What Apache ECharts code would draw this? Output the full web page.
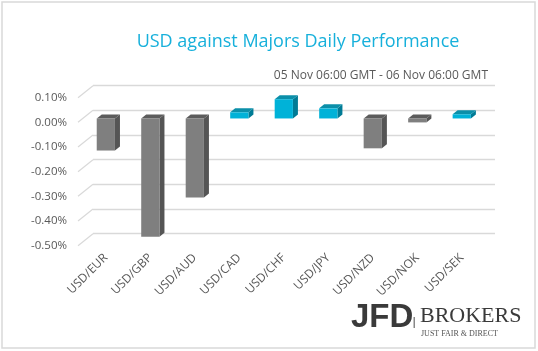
<!DOCTYPE html>
<html><head><meta charset="utf-8">
<script src="https://cdn.jsdelivr.net/npm/echarts@6/dist/echarts.min.js"></script>
<style>html,body{margin:0;padding:0;background:#fff}#c{width:538px;height:351px}</style>
</head><body><div id="c"></div>
<script>
var categories = ['USD/EUR','USD/GBP','USD/AUD','USD/CAD','USD/CHF','USD/JPY','USD/NZD','USD/NOK','USD/SEK'];
var values = [-0.13, -0.48, -0.32, 0.025, 0.078, 0.041, -0.121, -0.016, 0.017];
var tickValues = [0.1, 0, -0.1, -0.2, -0.3, -0.4, -0.5];
var titleText = 'USD against Majors Daily Performance';
var subtitleText = '05 Nov 06:00 GMT - 06 Nov 06:00 GMT';

var chart = echarts.init(document.getElementById('c'), null, {renderer:'canvas'});
var DX = 15, DY = 12;   // perspective offset front->back
var BD_X = 5, BD_Y = 4; // bar depth
var font = '"Open Sans", sans-serif';

function boxRender(params, api) {
  var idx = api.value(0), v = api.value(1);
  var p0 = api.coord([idx, 0]);
  var p1 = api.coord([idx, v]);
  var bw = api.size([1, 0])[0] * 0.41;
  var x0 = p0[0] - bw / 2, x1 = p0[0] + bw / 2;
  var yTop = Math.min(p0[1], p1[1]), yBot = Math.max(p0[1], p1[1]);
  var pos = v >= 0;
  var cFront = pos ? '#00b2d8' : '#7f7f7f';
  var cSide = pos ? '#007b95' : '#555555';
  var cTop = pos ? '#0b8fa9' : '#5c5c5c';
  return {
    type: 'group',
    children: [
      {type:'polygon', shape:{points:[[x1,yTop],[x1+BD_X,yTop-BD_Y],[x1+BD_X,yBot-BD_Y],[x1,yBot]]}, style:{fill:cSide}},
      {type:'polygon', shape:{points:[[x0,yTop],[x0+BD_X,yTop-BD_Y],[x1+BD_X,yTop-BD_Y],[x1,yTop]]}, style:{fill:cTop}},
      {type:'rect', shape:{x:x0, y:yTop, width:bw, height:Math.max(yBot-yTop,0.5)}, style:{fill:cFront}}
    ]
  };
}

function diagRender(params, api) {
  var v = api.value(0);
  var y = api.coord([0, v])[1];
  var x = params.coordSys.x;
  return {type:'line', shape:{x1:x-DX, y1:y+DY, x2:x, y2:y}, style:{stroke:'#d9d9d9', lineWidth:1.3}};
}

chart.setOption({
  animation: false,
  backgroundColor: '#ffffff',
  title: [
    {text: titleText, left: 293, top: 28, textAlign: 'center',
     textStyle:{color:'#17b0db', fontSize:18, fontWeight:'normal', fontFamily:font}},
    {text: subtitleText, right: 45, top: 65,
     textStyle:{color:'#595959', fontSize:12, fontWeight:'normal', fontFamily:font}}
  ],
  grid: [
    {left: 93, right: 43, top: 85.7, height: 148},
    {left: 78, width: 20, top: 97.7, height: 148},
    {left: 83.6, right: 54, top: 93.8, height: 148}
  ],
  xAxis: [
    {gridIndex:0, type:'category', data:categories, show:false},
    {gridIndex:1, type:'category', data:categories, show:false},
    {gridIndex:2, type:'category', data:categories,
     axisLine:{show:false}, axisTick:{show:false},
     axisLabel:{rotate:45, margin:14, color:'#595959', fontSize:12, fontFamily:font, interval:0}}
  ],
  yAxis: [
    {gridIndex:0, type:'value', min:-0.5, max:0.1, interval:0.1,
     axisLabel:{show:false}, axisLine:{show:false}, axisTick:{show:false},
     splitLine:{show:true, lineStyle:{color:'#d9d9d9', width:1.3}}},
    {gridIndex:1, type:'value', min:-0.5, max:0.1, interval:0.1,
     axisLine:{show:false}, axisTick:{show:false}, splitLine:{show:false},
     axisLabel:{margin:11, color:'#595959', fontSize:11.5, fontFamily:font,
       formatter:function(v){return v.toFixed(2) + '%';}}},
    {gridIndex:2, type:'value', min:-0.5, max:0.1, interval:0.1, show:false, splitLine:{show:false}}
  ],
  series: [
    {type:'custom', xAxisIndex:0, yAxisIndex:0, renderItem:diagRender,
     data: tickValues.map(function(v){return [v];}), encode:{y:0}, silent:true},
    {type:'custom', xAxisIndex:2, yAxisIndex:2, renderItem:boxRender,
     data: values.map(function(v,i){return [i, v];}), encode:{x:0, y:1}, clip:false}
  ],
  graphic: [
    {type:'rect', shape:{x:2, y:2, width:533, height:346}, style:{fill:'none', stroke:'#d9d9d9', lineWidth:1.5}, z:-1},
    {type:'text', left:351, top:301, style:{text:'JFD', fill:'#3a3a3a', font:'bold 33px "Liberation Sans", Arial, sans-serif'}},
    {type:'rect', shape:{x:413.5, y:317, width:1.5, height:11}, style:{fill:'#888'}},
    {type:'text', left:420, top:305, style:{text:'BROKERS', fill:'#3a3a3a', font:'22px "Liberation Serif", serif'}},
    {type:'text', left:421, top:330, style:{text:'JUST FAIR & DIRECT', fill:'#555', font:'8px "Liberation Serif", serif', letterSpacing:2}}
  ]
});
</script></body></html>
